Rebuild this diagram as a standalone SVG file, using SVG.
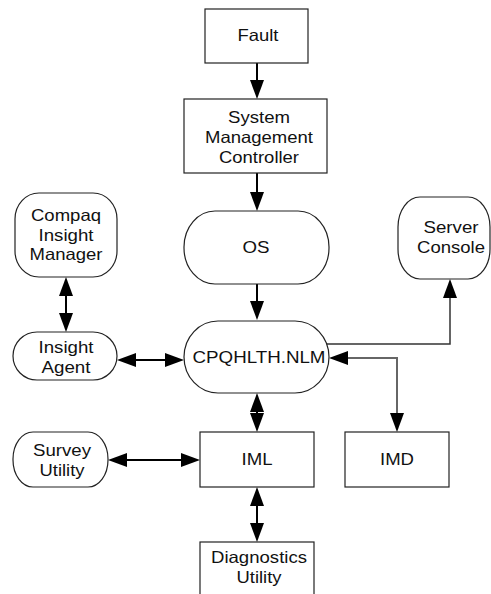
<svg xmlns="http://www.w3.org/2000/svg" width="491" height="594" viewBox="0 0 491 594">
<style>
  .box { fill: #ffffff; stroke: #222222; stroke-width: 1.2; }
  .lbl { font-family: "Liberation Sans", Arial, Helvetica, sans-serif; font-size: 16.5px; fill: #111111; text-anchor: middle; }
  .conn { fill: none; stroke: #000000; stroke-width: 2; }
  .conn-thin { fill: none; stroke: #333333; stroke-width: 1.5; }
  .conn-gray { fill: none; stroke: #666666; stroke-width: 2; }
</style>
<defs>
  <marker id="ah" viewBox="0 0 19 14" refX="0" refY="7" markerWidth="19" markerHeight="14" markerUnits="userSpaceOnUse" orient="auto-start-reverse">
    <path d="M0,0 L19,7 L0,14 z" fill="#000000"/>
  </marker>
</defs>
<rect x="0" y="0" width="491" height="594" fill="#ffffff"/>

<g id="connectors">
  <path class="conn" d="M257,63 L257,80" marker-end="url(#ah)"/>
  <path class="conn" d="M257,173 L257,192" marker-end="url(#ah)"/>
  <path class="conn" d="M257,284 L257,301" marker-end="url(#ah)"/>
  <path class="conn" d="M66,296 L66,313" marker-start="url(#ah)" marker-end="url(#ah)"/>
  <path class="conn" d="M136,360 L165,360" marker-start="url(#ah)" marker-end="url(#ah)"/>
  <path class="conn" d="M127,460 L181,460" marker-start="url(#ah)" marker-end="url(#ah)"/>
  <path class="conn" d="M257,412 L257,413" marker-start="url(#ah)" marker-end="url(#ah)"/>
  <path class="conn" d="M257,506 L257,523" marker-start="url(#ah)" marker-end="url(#ah)"/>
  <path class="conn-thin" d="M326,344 L450,344 L450,298" marker-end="url(#ah)"/>
  <path class="conn-gray" d="M397,413 L397,358 L348,358" marker-start="url(#ah)" marker-end="url(#ah)"/>
</g>

<g id="fault">
  <rect class="box" x="205" y="9" width="103" height="54"/>
  <text class="lbl" x="258" y="41" textLength="41" lengthAdjust="spacingAndGlyphs">Fault</text>
</g>

<g id="smc">
  <rect class="box" x="184" y="99" width="143" height="74"/>
  <text class="lbl" x="259" y="123" textLength="62" lengthAdjust="spacingAndGlyphs">System</text>
  <text class="lbl" x="259" y="143" textLength="108" lengthAdjust="spacingAndGlyphs">Management</text>
  <text class="lbl" x="259" y="163" textLength="80" lengthAdjust="spacingAndGlyphs">Controller</text>
</g>

<g id="os">
  <rect class="box" x="184" y="211" width="145" height="73" rx="31" ry="36"/>
  <text class="lbl" x="256" y="253" textLength="27" lengthAdjust="spacingAndGlyphs">OS</text>
</g>

<g id="cpqhlth">
  <rect class="box" x="184" y="321" width="145" height="72" rx="34" ry="36"/>
  <text class="lbl" x="259" y="363" textLength="133" lengthAdjust="spacingAndGlyphs">CPQHLTH.NLM</text>
</g>

<g id="server-console">
  <rect class="box" x="398" y="197" width="92" height="82" rx="22" ry="30"/>
  <text class="lbl" x="451" y="233" textLength="55" lengthAdjust="spacingAndGlyphs">Server</text>
  <text class="lbl" x="451" y="253" textLength="68" lengthAdjust="spacingAndGlyphs">Console</text>
</g>

<g id="compaq-insight-manager">
  <rect class="box" x="15" y="193" width="102" height="84" rx="24" ry="26"/>
  <text class="lbl" x="66" y="221" textLength="70" lengthAdjust="spacingAndGlyphs">Compaq</text>
  <text class="lbl" x="66" y="240.5" textLength="55" lengthAdjust="spacingAndGlyphs">Insight</text>
  <text class="lbl" x="66" y="260" textLength="73" lengthAdjust="spacingAndGlyphs">Manager</text>
</g>

<g id="insight-agent">
  <rect class="box" x="13" y="332" width="104" height="48" rx="24" ry="24"/>
  <text class="lbl" x="66" y="353" textLength="55" lengthAdjust="spacingAndGlyphs">Insight</text>
  <text class="lbl" x="66" y="372.5" textLength="49" lengthAdjust="spacingAndGlyphs">Agent</text>
</g>

<g id="survey-utility">
  <rect class="box" x="13" y="432" width="95" height="55" rx="20" ry="27"/>
  <text class="lbl" x="62" y="456" textLength="58" lengthAdjust="spacingAndGlyphs">Survey</text>
  <text class="lbl" x="62" y="475.5" textLength="45" lengthAdjust="spacingAndGlyphs">Utility</text>
</g>

<g id="iml">
  <rect class="box" x="200" y="432" width="114" height="55"/>
  <text class="lbl" x="257" y="465" textLength="31" lengthAdjust="spacingAndGlyphs">IML</text>
</g>

<g id="imd">
  <rect class="box" x="345" y="432" width="104" height="55"/>
  <text class="lbl" x="397" y="465" textLength="34" lengthAdjust="spacingAndGlyphs">IMD</text>
</g>

<g id="diagnostics-utility">
  <rect class="box" x="200" y="542" width="114" height="70"/>
  <text class="lbl" x="259" y="563" textLength="96" lengthAdjust="spacingAndGlyphs">Diagnostics</text>
  <text class="lbl" x="259" y="583" textLength="45" lengthAdjust="spacingAndGlyphs">Utility</text>
</g>
</svg>
